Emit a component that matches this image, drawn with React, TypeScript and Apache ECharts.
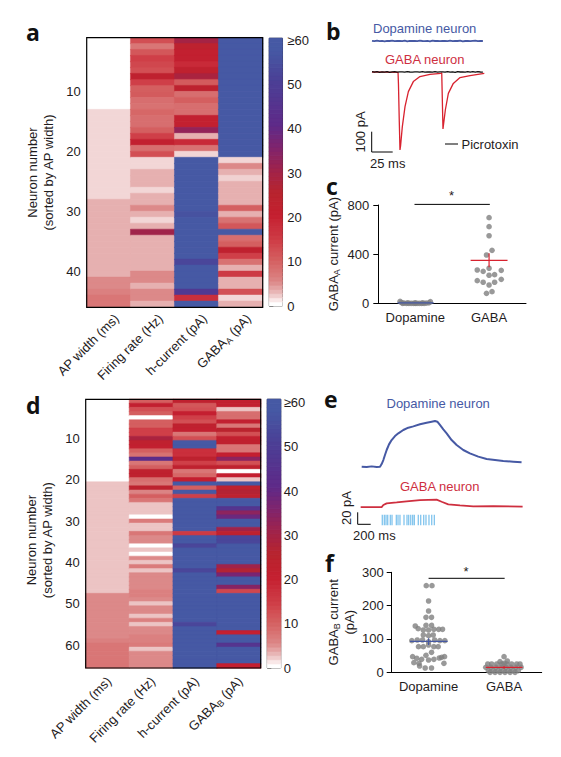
import React, { useEffect, useRef } from "react";
import * as echarts from "echarts";

const FONT = '"Liberation Sans", Arial, sans-serif';
const INK = "#1f1c1d";
const BLUE = "#4659a4";
const RED = "#ce2f3f";
const DOT = "#808080";

// heat-map scale: [value, colour]
const rampStops: [number, string][] = [
  [0, "#ffffff"], [0.7, "#fbf0f0"], [1.5, "#f2d6d6"], [2.2, "#ecc4c4"], [3, "#e6b0b0"], [5, "#dc8989"],
  [7, "#d97676"], [10, "#d45f60"], [14, "#cf3f48"], [20, "#c41f30"], [25, "#b8242e"],
  [30, "#a0234a"], [35, "#80246c"], [40, "#5f2a88"], [50, "#4b3f96"], [57, "#4659a4"], [60, "#4659a4"],
];

// panel a columns (rows 1..45)
const aApWidth = [0,0,0,0,0,0,0,0,0,0,0,0,1.5,1.5,1.5,1.5,1.5,1.5,1.5,1.5,1.5,1.5,1.5,1.5,1.5,1.5,1.5,3,3,3,3,3,3,3,3,3,3,3,3,3,5,5,6,7,7];
const aFiring = [12,7,11,14,13,12,22,14,10,10.5,8,7.5,9,8,8,10,14,21,8,12,1.5,1.5,3,3,3,1.5,3,3,5,3,1.5,3,30,3,3,3,3,3,3,5,5,3,5,5,3];
const aHCurrent = [29,23,21,21,18,22,28,10.5,23,8,10,8,8,21,21,32,3,18,7.5,1.5,60,60,60,60,60,60,60,60,60,55,60,60,60,60,60,60,60,52,60,60,60,60,47,17,60];
const aGabaA = [60,60,60,60,60,60,60,60,60,60,60,60,60,60,60,60,60,60,60,60,1.5,5,3,1.7,3,3,3,3,10,3,7.5,11,60,8,10,22,14,7.5,3,15,3,3,12,1.5,3];

// panel d columns (rows 1..65)
const dApWidth = [0,0,0,0,0,0,0,0,0,0,0,0,0,0,0,0,0,0,0,0,2.2,2.2,2.2,2.2,2.2,2.2,2.2,2.2,2.2,2.2,2.2,2.2,2.2,2.2,2.2,2.2,2.2,2.2,2.2,2.2,2.2,2.2,2.2,2.2,2.2,2.2,2.2,5,5,5,5,5,5,5,5,5,5,5,6,7,7,7,7,7,7];
const dFiring = [10,21,12,10,0,10,10,14,14,28,22,21,10,7.5,41,7,10,22,22,8,7,23,5.5,10,7,2.2,2.2,2.2,0,6.5,2.2,2.2,7,5,5,0,2.2,0,5,2.2,6.5,2.2,5,5,5,5,6,6,5,2.2,5,5,2.2,6,2.2,5,5,6,6,6.5,2.2,5,5,5,5];
const dHCurrent = [22,11,12,20,14,12,22,21,7,12,60,60,17,17,23,14,22,7,9,20,58,10,60,14,60,60,60,60,60,60,60,60,15,60,60,52,60,60,60,60,60,52,60,60,60,60,60,60,60,60,60,60,60,60,52,60,60,60,60,60,60,60,60,60,60];
const dGabaB = [21,21,2.2,8,8,21,7,24,12,21,22,7,7,20,33,12,22,0,20,2.2,58,22,26,23,60,60,45,33,38,60,60,30,22,52,52,60,60,60,60,60,30,26,36,60,60,34,13,60,60,60,60,60,60,60,60,60,20,60,60,45,60,60,60,60,20];

const aColumns = ["AP width (ms)", "Firing rate (Hz)", "h-current (pA)", "GABA{sub|A} (pA)"];
const dColumns = ["AP width (ms)", "Firing rate (Hz)", "h-current (pA)", "GABA{sub|B} (pA)"];

// panel b traces: [ms, pA]
const bTraceStep = 3;
const bDopamine = [156,154,157,154,156,153,156,155,157,154,155,156,154,157,153,156,155,156,154,157,155,154,156,153,157,155,156,154,156,155,154,157,154,156,155,157,153,155,156,154,156,157,154,155,155];
const bPicrotoxin = [2,-1,2,-2,1,-1,2,-2,1,2,-1,1,1,-1,2,0,-1,1,1,-1,2,-1,0,1,-1,2,-1,1,1,-1,2,-1,1,-2,2,0,1,-1,2,-1,2,-1,2,0,-1];
const bGaba: [number, number][] = [[0,0],[15,-1],[31,-2],[31.5,-60],[32.5,-250],[33.3,-390],[34,-370],[36.1,-273],[39.3,-173],[43.3,-98],[49.2,-48],[57.1,-23],[69,-12],[82,-7],[83,-3],[84.5,-285],[87.3,-190],[90.9,-107],[96.8,-57],[104.8,-28],[116.7,-18],[133.7,-7]];

// panel c points: [x position, pA]
const cDopamine: [number, number][] = [[0.59,16],[1.41,13],[0.63,5],[0.7,2],[0.76,0],[0.83,0],[0.89,0],[0.95,0],[1.0,0],[1.05,0],[1.11,0],[1.17,0],[1.24,0],[1.3,2],[1.37,4],[0.66,0],[0.8,3],[1.0,3],[1.2,3]];
const cGaba: [number, number][] = [[3,697],[3,624],[3,550],[3.08,431],[2.93,393],[3,285],[2.68,271],[2.84,260],[3.33,268],[3,228],[3.15,233],[2.68,184],[2.84,171],[3.33,195],[3.15,171],[3,149],[3.08,95],[2.93,81]];
const cDopamineMean: [number, number][] = [[0.52,3],[1.5,3]];
const cGabaMean: [number, number][] = [[2.5,350],[3.5,350]];
const cGabaError: [number, number][] = [[3,293],[3,407]];
const cSignificance: [number, number][] = [[0.98,805],[3.02,805]];

// panel e traces: [ms, pA]
const eDopamine: [number, number][] = [[26,66.7],[102,66.1],[179,67.2],[256,66.1],[307,66.7],[332,71.1],[358,77.8],[383,86.1],[409,94.5],[445,103.9],[485,111.1],[537,117.8],[588,122.3],[664,127.8],[741,131.7],[818,133.9],[920,137.3],[1022,140],[1099,141.7],[1150,142.8],[1186,141.7],[1226,136.2],[1278,128.9],[1329,122.3],[1405,111.1],[1482,102.8],[1584,94.5],[1686,88.9],[1814,83.4],[1942,79.5],[2070,77.8],[2197,76.1],[2351,75],[2478,73.9]];
const eGaba: [number, number][] = [[10,-0.6],[332,-0.6],[358,2.8],[409,5.6],[562,7.2],[715,8.9],[920,11.1],[1175,11.7],[1252,8.3],[1354,3.9],[1533,2.2],[1737,0.6],[2044,1.1],[2494,0]];
const eStimulusTimes = [342,373,399,425,465,491,557,583,613,675,721,747,778,808,833,894,931,977,1012,1058,1100,1140];
const eStimulusLevel = -22;

// panel f points: [x position, pA]
const fDopamine: [number, number][] = [[2.55,260],[2.92,260],[2.7,214],[2.7,184],[2.53,165],[2.89,165],[1.84,139],[2.53,141],[2.89,141],[2.03,131],[2.36,127],[2.7,127],[3.04,129],[3.35,129],[3.6,129],[2.36,112],[2.7,110],[3.0,112],[1.62,95],[1.97,97],[2.31,97],[2.7,92],[3.09,97],[3.43,95],[3.75,95],[2.36,77],[2.7,82],[3.04,77],[2.05,77],[3.32,77],[2.89,60],[2.53,51],[1.67,47],[3.73,47],[1.93,42],[2.25,39],[2.7,37],[3.04,39],[3.39,43],[3.54,45],[1.75,29],[2.08,27],[3.69,27],[2.12,19],[2.48,13],[2.89,13]];
const fGaba: [number, number][] = [[6.52,25],[6.77,25],[7.1,25],[7.42,25],[7.74,25],[8.06,25],[8.39,25],[8.6,25],[6.39,15],[6.71,15],[7.03,15],[7.36,15],[7.68,15],[8,15],[8.32,15],[8.67,15],[6.56,5],[6.88,5],[7.2,5],[7.53,5],[7.85,5],[8.17,5],[8.49,5],[6.67,0],[6.99,0],[7.31,0],[7.63,0],[7.96,0],[8.28,0],[7.57,47],[7.31,32],[7.78,34],[7.57,27]];
const fDopamineMean: [number, number][] = [[1.5,93],[3.93,93]];
const fDopamineError: [number, number][] = [[2.7,82],[2.7,102]];
const fGabaMean: [number, number][] = [[6.39,15],[8.76,15]];
const fGabaError: [number, number][] = [[7.57,11],[7.57,19]];
const fSignificance: [number, number][] = [[2.7,282],[7.61,282]];

const hexToRgb = (h: string) => [1, 3, 5].map((i) => parseInt(h.slice(i, i + 2), 16));
function rampColor(v: number) {
  for (let i = 1; i < rampStops.length; i++) {
    const [v1, c1] = rampStops[i];
    const [v0, c0] = rampStops[i - 1];
    if (v <= v1) {
      const t = (v - v0) / (v1 - v0);
      const a = hexToRgb(c0);
      const b = hexToRgb(c1);
      return `rgb(${a.map((x, k) => Math.round(x + (b[k] - x) * t)).join(",")})`;
    }
  }
  return rampStops[rampStops.length - 1][1];
}

const subRich = { sub: { fontSize: 9, fontFamily: FONT, color: INK, verticalAlign: "bottom", padding: [7, 0, 0, 0] } };

// one heat-map cell; a hair of same-coloured border closes the seams between rows
const cell = (c: number, r: number, v: number) => ({
  value: [c, r, v],
  itemStyle: { borderColor: rampColor(v), borderWidth: 0.5 },
});

function buildOption() {
  const grids: any[] = [];
  const xAxes: any[] = [];
  const yAxes: any[] = [];
  const series: any[] = [];
  const heatIdx: number[] = [];
  const add = (g: any, x: any, y: any) => {
    grids.push({ show: false, containLabel: false, ...g });
    const i = grids.length - 1;
    xAxes.push({ gridIndex: i, ...x });
    yAxes.push({ gridIndex: i, ...y });
    return i;
  };
  const line = (g: number, data: any[], color: string, width: number, extra: any = {}) =>
    series.push({ type: "line", xAxisIndex: g, yAxisIndex: g, data, showSymbol: false, symbol: "none", clip: false, silent: true,
      lineStyle: { color, width }, z: 5, ...extra });
  const dots = (g: number, data: any[]) =>
    series.push({ type: "scatter", xAxisIndex: g, yAxisIndex: g, data, symbolSize: 5.6, clip: false, silent: true,
      itemStyle: { color: DOT }, z: 3 });

  const heat = (left: number, top: number, width: number, height: number, cols: number[][], names: string[],
    nameText: string, nameGap: number, namePad: number[], labelMargin: number, labelAlign: any, labelShift: number, xMargin: number) => {
    const rows = cols[0].map((_, i) => String(i + 1));
    const data: any[] = [];
    cols.forEach((c, ci) => c.forEach((v, ri) => data.push(cell(ci, ri, v))));
    const g = add({ left, top, width, height },
      { type: "category", data: names, show: false },
      { type: "category", data: rows, inverse: true,
        axisLine: { show: false }, axisTick: { show: false },
        axisLabel: { interval: (i: number) => (i + 1) % 10 === 0, fontSize: 13, color: INK, margin: labelMargin, ...labelAlign },
        name: nameText, nameLocation: "middle", nameRotate: 90, nameGap,
        nameTextStyle: { fontSize: 13, color: INK, lineHeight: 16, align: "center", padding: namePad } });
    series.push({ type: "heatmap", xAxisIndex: g, yAxisIndex: g, data, silent: true, z: 2 });
    heatIdx.push(series.length - 1);
    // the rotated column labels sit on their own axis, a little right of the columns
    add({ left: left + labelShift, top, width, height },
      { type: "category", data: names, axisLine: { show: false }, axisTick: { show: false },
        axisLabel: { interval: 0, rotate: 45, fontSize: 13, color: INK, margin: xMargin, rich: subRich } },
      { type: "value", min: 0, max: 1, show: false });
  };

  const colorbar = (left: number, top: number, width: number, bottom: number, axisTop: number, margin: number) => {
    const levels = Array.from({ length: 64 }, (_, i) => i);
    const g = add({ left, top, width, height: bottom - top, show: true, backgroundColor: "#fff", borderColor: "#000", borderWidth: 1 },
      { type: "category", data: ["scale"], show: false },
      { type: "category", data: levels.map(String), show: false });
    series.push({ type: "heatmap", xAxisIndex: g, yAxisIndex: g, silent: true, z: 2, data: levels.map((i) => cell(0, i, (i * 60) / 64)) });
    heatIdx.push(series.length - 1);
    add({ left, top: axisTop, width, height: bottom - axisTop },
      { type: "value", min: 0, max: 1, show: false },
      { type: "value", min: 0, max: 60, interval: 10, position: "right",
        axisLine: { show: true, lineStyle: { color: "#000", width: 1 } },
        axisTick: { show: true, length: 4, lineStyle: { color: "#000", width: 1 } },
        splitLine: { show: false },
        axisLabel: { fontSize: 13, color: INK, margin, formatter: (v: number) => (v === 60 ? "≥60" : String(v)) } });
  };

  const plainAxis = { axisLine: { show: true, onZero: false, lineStyle: { color: "#000", width: 1 } },
    axisTick: { show: true, length: 5, lineStyle: { color: "#000", width: 1 } }, splitLine: { show: false } };

  // a: the row numbers sit about 3px above their row's middle
  heat(86.7, 37.7, 176, 269.6, [aApWidth, aFiring, aHCurrent, aGabaA], aColumns,
    "Neuron number\n(sorted by AP width)", 30, [0, 0, 0, 0], 6, { verticalAlign: "bottom", lineHeight: 6 }, 8, 9);
  colorbar(269.3, 38.3, 13, 306, 40, 5);

  // b
  const gb = add({ left: 372, top: 36, width: 112, height: 120 },
    { type: "value", min: 0, max: 133.33, show: false }, { type: "value", min: -420, max: 180, show: false });
  line(gb, bDopamine.map((v, i) => [i * bTraceStep, v]), BLUE, 1.8);
  line(gb, bGaba, "#d8222f", 1.3);
  line(gb, bPicrotoxin.map((v, i) => [i * bTraceStep, v]), "#111", 1.3);

  // c
  const gc = add({ left: 378.3, top: 205, width: 147.7, height: 98.3 },
    { type: "value", min: 0, max: 4, ...plainAxis, axisTick: { show: false },
      axisLabel: { customValues: [1, 3], fontSize: 13, color: INK, margin: 8,
        formatter: (v: number) => (v === 1 ? "Dopamine" : "GABA") } },
    { type: "value", min: 0, max: 800, interval: 400, ...plainAxis,
      axisLabel: { fontSize: 13, color: INK, margin: 9 },
      name: "GABA{sub|A} current (pA)", nameLocation: "middle", nameRotate: 90, nameGap: 37,
      nameTextStyle: { fontSize: 13, color: INK, rich: subRich } });
  dots(gc, cDopamine);
  dots(gc, cGaba);
  line(gc, cDopamineMean, BLUE, 1.2);
  line(gc, cGabaMean, "#d8222f", 1.2);
  line(gc, cGabaError, "#d8222f", 1.2);
  line(gc, cSignificance, "#000", 1);

  // d
  heat(85.7, 399.3, 175, 268.7, [dApWidth, dFiring, dHCurrent, dGabaB], dColumns,
    "Neuron number\n(sorted by AP width)", 30, [0, 13, 0, 0], 6, {}, 1.5, 11);
  colorbar(267.3, 399.3, 13.4, 668, 402.5, 3);

  // e
  const ge = add({ left: 360, top: 416.7, width: 163, height: 114 },
    { type: "value", min: 0, max: 2500, show: false }, { type: "value", min: -40, max: 150, show: false });
  line(ge, eDopamine, BLUE, 2);
  line(ge, eGaba, RED, 1.8);
  series.push({ type: "scatter", xAxisIndex: ge, yAxisIndex: ge, silent: true, symbol: "rect", symbolSize: [1.3, 10.5], clip: false,
    itemStyle: { color: "#62b5e8" }, data: eStimulusTimes.map((t) => [t, eStimulusLevel]), z: 3 });

  // f
  const gf = add({ left: 391.7, top: 572.3, width: 150, height: 100 },
    { type: "value", min: 0.32, max: 10, ...plainAxis, axisTick: { show: false },
      axisLabel: { customValues: [2.7, 7.57], fontSize: 13, color: INK, margin: 8,
        formatter: (v: number) => (v < 5 ? "Dopamine" : "GABA") } },
    { type: "value", min: 0, max: 300, interval: 100, ...plainAxis,
      axisLabel: { fontSize: 13, color: INK, margin: 8 },
      name: "GABA{sub|B} current\n(pA)", nameLocation: "middle", nameRotate: 90, nameGap: 34,
      nameTextStyle: { fontSize: 13, color: INK, lineHeight: 16, rich: subRich } });
  dots(gf, fDopamine);
  dots(gf, fGaba);
  line(gf, fDopamineMean, BLUE, 1.2);
  line(gf, fDopamineError, BLUE, 1.2);
  line(gf, fGabaMean, "#d8222f", 1.2);
  line(gf, fGabaError, "#d8222f", 1.2);
  line(gf, fSignificance, "#000", 1);

  const text = (x: number, y: number, t: string, o: any = {}) => ({
    type: "text", x, y, z: 100, rotation: o.rotation ?? 0, silent: true,
    style: { text: t, fill: o.fill ?? INK, font: o.font ?? `13px ${FONT}`, textAlign: o.align ?? "left", textVerticalAlign: "middle" },
  });
  const seg = (x1: number, y1: number, x2: number, y2: number, color = "#000", w = 1) => ({
    type: "line", z: 100, silent: true, shape: { x1, y1, x2, y2 }, style: { stroke: color, lineWidth: w },
  });
  const frame = (x: number, y: number, width: number, height: number) => ({
    type: "rect", z: 100, silent: true, shape: { x, y, width, height }, style: { fill: "none", stroke: "#000", lineWidth: 1.2 },
  });
  const letter = (x: number, y: number, t: string) => text(x, y, t, { font: `bold 23px "Open Sans", ${FONT}`, fill: "#111" });

  const graphic = [
    frame(86.7, 37.7, 176, 269.6),
    frame(85.7, 399.3, 175, 268.7),
    letter(26, 32, "a"), letter(326, 31, "b"), letter(326, 186, "c"),
    letter(26, 405, "d"), letter(324, 399, "e"), letter(325, 563, "f"),
    text(373, 28.5, "Dopamine neuron", { fill: BLUE }),
    text(385, 59.5, "GABA neuron", { fill: RED }),
    text(360, 132, "100 pA", { rotation: Math.PI / 2, align: "center" }),
    seg(371.7, 131.7, 371.7, 152), seg(371.7, 152, 392.7, 152),
    text(370, 163, "25 ms"),
    seg(445, 144, 458, 144),
    text(461.5, 144.5, "Picrotoxin"),
    text(451.5, 195, "*", { align: "center" }),
    text(386.5, 403.5, "Dopamine neuron", { fill: BLUE }),
    text(400, 486.5, "GABA neuron", { fill: RED }),
    text(346, 508, "20 pA", { rotation: Math.PI / 2, align: "center" }),
    seg(357.7, 512.3, 357.7, 524.3), seg(357.7, 524.3, 370.7, 524.3),
    text(353, 535.5, "200 ms"),
    text(466, 571, "*", { align: "center" }),
  ];

  return {
    animation: false,
    backgroundColor: "#fff",
    textStyle: { fontFamily: FONT },
    grid: grids,
    xAxis: xAxes,
    yAxis: yAxes,
    series,
    graphic,
    visualMap: [{
      type: "continuous", show: false, min: 0, max: 60, dimension: 2, seriesIndex: heatIdx,
      inRange: { color: Array.from({ length: 121 }, (_, i) => rampColor(i / 2)) },
    }],
  };
}

export default function App() {
  const ref = useRef<HTMLDivElement>(null);
  useEffect(() => {
    const chart = echarts.init(ref.current!, undefined, { renderer: "svg" });
    chart.setOption(buildOption() as any);
    return () => chart.dispose();
  }, []);
  return <div ref={ref} style={{ position: "absolute", left: 0, top: 0, width: 561, height: 757 }} />;
}
